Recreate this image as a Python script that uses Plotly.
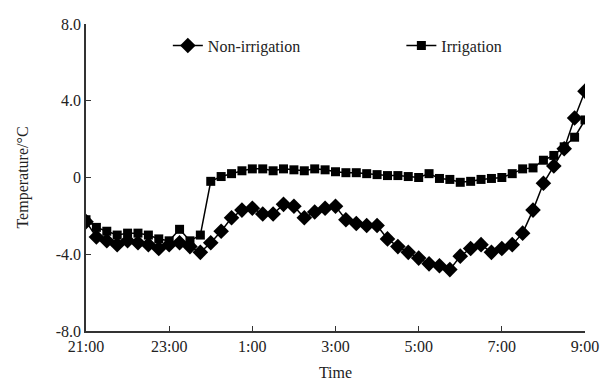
import plotly.graph_objects as go

# Time in hours after 21:00, 15-minute steps
hours = [i * 0.25 for i in range(49)]

non_irrigation = [
    -2.3, -3.1, -3.3, -3.5, -3.3, -3.4, -3.5, -3.7, -3.5, -3.4, -3.6, -3.9,
    -3.4, -2.8, -2.1, -1.7, -1.6, -1.9, -1.9, -1.4, -1.5, -2.1, -1.8, -1.6,
    -1.5, -2.2, -2.4, -2.5, -2.5, -3.2, -3.6, -3.9, -4.2, -4.5, -4.6, -4.8,
    -4.1, -3.7, -3.5, -3.9, -3.7, -3.5, -2.9, -1.7, -0.3, 0.6, 1.5, 3.1, 4.5,
]

irrigation = [
    -2.2, -2.6, -2.8, -3.0, -2.9, -2.9, -3.0, -3.2, -3.3, -2.7, -3.3, -3.0,
    -0.2, 0.05, 0.2, 0.35, 0.45, 0.45, 0.35, 0.45, 0.4, 0.35, 0.45, 0.4,
    0.3, 0.25, 0.25, 0.2, 0.15, 0.1, 0.1, 0.05, 0.0, 0.2, -0.05, -0.1,
    -0.25, -0.2, -0.1, -0.05, 0.0, 0.2, 0.45, 0.5, 0.9, 1.15, 1.6, 2.1, 3.0,
]

x_tick_vals = [0, 2, 4, 6, 8, 10, 12]
x_tick_text = ["21:00", "23:00", "1:00", "3:00", "5:00", "7:00", "9:00"]
y_tick_vals = [-8, -4, 0, 4, 8]
y_tick_text = ["-8.0", "-4.0", "0", "4.0", "8.0"]

FONT = "Liberation Serif"
FS = 16

fig = go.Figure()
fig.add_trace(go.Scatter(
    x=hours, y=non_irrigation, name="Non-irrigation", mode="lines+markers",
    line=dict(color="black", width=1.5),
    marker=dict(symbol="diamond", size=12, color="black"),
    legend="legend",
))
fig.add_trace(go.Scatter(
    x=hours, y=irrigation, name="Irrigation", mode="lines+markers",
    line=dict(color="black", width=1.5),
    marker=dict(symbol="square", size=9, color="black"),
    legend="legend2",
))

legend_common = dict(
    orientation="h", y=0.985, xanchor="left", yanchor="top",
    bgcolor="rgba(0,0,0,0)", font=dict(family=FONT, size=FS, color="#222"),
)

fig.update_layout(
    width=616, height=381,
    margin=dict(l=86, r=31, t=24, b=50),
    paper_bgcolor="white", plot_bgcolor="white",
    font=dict(family=FONT, size=FS, color="#222"),
    showlegend=True,
    legend=dict(x=0.164, **legend_common),
    legend2=dict(x=0.632, **legend_common),
    xaxis=dict(
        range=[0, 12], tickvals=x_tick_vals, ticktext=x_tick_text,
        showgrid=False, zeroline=False, showline=True, linecolor="#333",
        linewidth=1.5, ticks="inside", ticklen=5, tickcolor="#333",
        automargin=False,
        title=dict(text="Time", standoff=14, font=dict(family=FONT, size=FS)),
    ),
    yaxis=dict(
        range=[-8, 8], tickvals=y_tick_vals, ticktext=y_tick_text,
        showgrid=False, zeroline=False, showline=True, linecolor="#333",
        linewidth=1.5, ticks="inside", ticklen=5, tickcolor="#333",
        automargin=False,
        title=dict(text="Temperature/°C", standoff=23, font=dict(family=FONT, size=FS)),
    ),
)

fig.write_html("out.html")
